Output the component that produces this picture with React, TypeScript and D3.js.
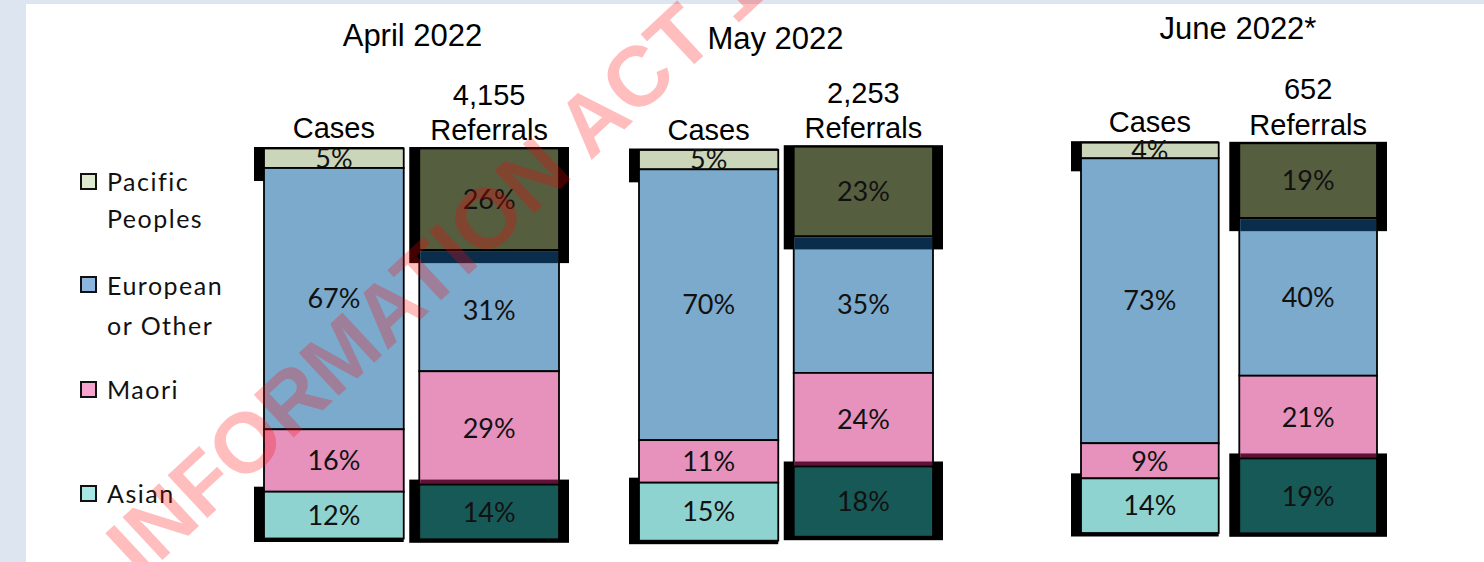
import React from 'react';
import * as d3 from 'd3';

const width = 1484;
const height = 562;

// ---- data ----
const months = ['April 2022', 'May 2022', 'June 2022*'];
const measures = ['Cases', 'Referrals'];
const referralCounts = ['4,155', '2,253', '652'];
const ethnicities = ['Pacific', 'European', 'Maori', 'Asian'];
const legendLines = [['Pacific', 'Peoples'], ['European', 'or Other'], ['Maori'], ['Asian']];

const casesPacific = [5, 5, 4];
const casesEuropean = [67, 70, 73];
const casesMaori = [16, 11, 9];
const casesAsian = [12, 15, 14];

const referralsPacific = [26, 23, 19];
const referralsEuropean = [31, 35, 40];
const referralsMaori = [29, 24, 21];
const referralsAsian = [14, 18, 19];

// ---- layout ----
const groupX = [[264, 559], [639, 933], [1081, 1377]];
const groupPad = [0.1, 0.1, 0.13];
const barTop = [[148.5, 148.5], [150, 146.7], [142.7, 143.3]];
const barBottom = [[538.5, 539.3], [540.7, 536.7], [533, 533.3]];
const titleX = [412.5, 775.5, 1238];
const titleY = [46, 49, 39];

const legendSwatchY = [174, 277, 382, 486];
const legendBaselines = [[190.7, 228.3], [295, 335], [399.3], [503.3]];

const caseColors = { Pacific: '#cbd5b9', European: '#7caacd', Maori: '#e692bd', Asian: '#8fd3d0' };
const referralColors = { Pacific: '#565e40', European: '#7caacd', Maori: '#e692bd', Asian: '#175957' };
const legendColors = ['#dfe9cf', '#8bb6dd', '#f6a3cf', '#a5e8e4'];

const titleFont = '"Liberation Sans", Arial, sans-serif';
const labelFont = 'Lato, "Open Sans", sans-serif';

const rows = months.flatMap((m, i) => [
  { month: i, measure: 'Cases', Pacific: casesPacific[i], European: casesEuropean[i], Maori: casesMaori[i], Asian: casesAsian[i] },
  { month: i, measure: 'Referrals', Pacific: referralsPacific[i], European: referralsEuropean[i], Maori: referralsMaori[i], Asian: referralsAsian[i] },
]);

const series = d3
  .stack<any>()
  .keys(['Asian', 'Maori', 'European', 'Pacific'])
  .offset(d3.stackOffsetExpand)(rows);

function Bar({ k }: { k: number }) {
  const row = rows[k];
  const i = row.month;
  const j = measures.indexOf(row.measure);
  const isRef = row.measure === 'Referrals';
  const x = d3.scaleBand().domain(measures).range(groupX[i]).paddingInner(groupPad[i]);
  const y = d3.scaleLinear().domain([0, 1]).range([barBottom[i][j], barTop[i][j]]);
  const x0 = x(row.measure)!;
  const w = x.bandwidth();
  const colors = isRef ? referralColors : caseColors;

  const segs = ethnicities.map((key) => {
    const s = series.find((d) => d.key === key)![k];
    return { key, value: row[key], top: y(s[1]), bottom: y(s[0]) };
  });
  const first = segs[0];
  const last = segs[segs.length - 1];
  const right = x0 + w + (isRef ? 10 : 0);

  return (
    <g>
      <rect x={x0 - 10} y={first.top - 1.5} width={right - x0 + 10} height={first.bottom + 13 - first.top + 1.5} fill="#000" />
      <rect x={x0 - 10} y={last.top - 5} width={right - x0 + 10} height={last.bottom + 3.5 - last.top + 5} fill="#000" />
      {segs.map((s) => (
        <g key={s.key}>
          <rect x={x0} y={s.top} width={w} height={s.bottom - s.top} fill={colors[s.key]} stroke="#000" strokeWidth={1.8} />
          {isRef && s.key === 'European' && (
            <rect x={x0 + 1} y={s.top + 1} width={w - 2} height={12} fill="#0b2d4c" />
          )}
          {isRef && s.key === 'Maori' && (
            <rect x={x0 + 1} y={s.bottom - 5} width={w - 2} height={4.5} fill="#5f1236" />
          )}
          <text
            x={x0 + w / 2}
            y={(s.top + s.bottom) / 2}
            dy="0.36em"
            textAnchor="middle"
            fontFamily={labelFont}
            fontSize={27}
            fill="#111"
          >
            {s.value}%
          </text>
        </g>
      ))}
      <text x={x0 + w / 2} y={barTop[i][j] - (isRef ? 8.5 : 10.5)} textAnchor="middle" fontFamily={titleFont} fontSize={29} fill="#000">
        {row.measure}
      </text>
      {isRef && (
        <text x={x0 + w / 2} y={barTop[i][j] - 44} textAnchor="middle" fontFamily={titleFont} fontSize={29} fill="#000">
          {referralCounts[i]}
        </text>
      )}
    </g>
  );
}

export default function App() {
  return (
    <svg width={width} height={height} style={{ position: 'absolute', left: 0, top: 0 }}>
      <rect x={0} y={0} width={width} height={height} fill="#dde5f0" />
      <rect x={26} y={4} width={width - 26} height={height - 4} fill="#fff" />

      {months.map((m, i) => (
        <text key={m} x={titleX[i]} y={titleY[i]} textAnchor="middle" fontFamily={titleFont} fontSize={31} fill="#000">
          {m}
        </text>
      ))}

      {rows.map((r, k) => (
        <Bar key={k} k={k} />
      ))}

      {legendLines.map((lines, i) => (
        <g key={i}>
          <rect x={81} y={legendSwatchY[i]} width={15} height={15} fill={legendColors[i]} stroke="#111" strokeWidth={2} />
          {lines.map((t, l) => (
            <text key={t} x={107} y={legendBaselines[i][l]} fontFamily={labelFont} fontSize={25} letterSpacing={1.5} fill="#111">
              {t}
            </text>
          ))}
        </g>
      ))}

      <text
        transform="translate(141,580) rotate(-43)"
        fontFamily={titleFont}
        fontWeight="bold"
        fontSize={85}
        fill="#ff0000"
        fillOpacity={0.26}
      >
        INFORMATION ACT 1982
      </text>
    </svg>
  );
}
